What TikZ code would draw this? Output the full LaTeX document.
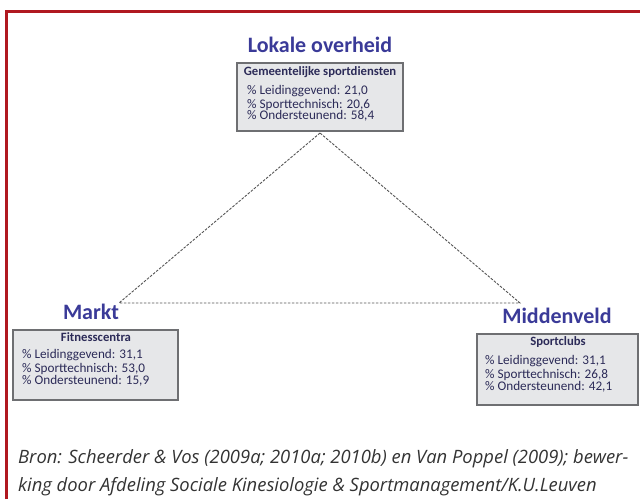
\documentclass[tikz,border=0pt]{standalone}
\usepackage{fontspec}
\setmainfont{Carlito}
\newfontfamily\capfont{Open Sans}
\definecolor{frame}{HTML}{B01820}
\definecolor{ttl}{HTML}{3A3A98}
\definecolor{txt}{HTML}{2C2B58}
\definecolor{boxfill}{HTML}{E6E7E9}
\definecolor{boxline}{HTML}{6E6F72}
\definecolor{dashc}{HTML}{555555}
\definecolor{capc}{HTML}{333333}
\tikzset{
  sector/.style={font=\fontsize{22}{24}\selectfont\bfseries, text=ttl, inner sep=0pt},
  databox/.style={draw=boxline, line width=1.3pt, fill=boxfill, inner sep=0pt},
  boxhead/.style={font=\fontsize{12.7}{13}\selectfont\bfseries, text=txt, inner sep=0pt},
  boxline/.style={font=\fontsize{13.2}{13}\selectfont, text=txt, inner sep=0pt, anchor=west},
  link/.style={draw=dashc, line width=0.9pt, dash pattern=on 2.6pt off 1.4pt},
  caption/.style={font=\capfont\itshape\fontsize{18.4}{28}\selectfont, text=capc, inner sep=0pt, anchor=west}
}
\begin{document}
\begin{tikzpicture}[x=1pt,y=-1pt]
\useasboundingbox (0,0) rectangle (640,499);
% frame
\draw[frame, line width=2.7pt] (6.3,499) -- (6.3,11.3) -- (640,11.3);
% top
\node[sector] (lokaal) at (320,45) {Lokale overheid};
\node[databox, minimum width=166pt, minimum height=68pt] (gbox) at (320,97) {};
\node[boxhead] (ghead) at (320,72) {Gemeentelijke sportdiensten};
\node[boxline] (g1) at (247,91.5) {\% Leidinggevend: 21,0};
\node[boxline] (g2) at (247,104.5) {\% Sporttechnisch: 20,6};
\node[boxline] (g3) at (247,116) {\% Ondersteunend: 58,4};
% left
\node[sector] (markt) at (91,312) {Markt};
\node[databox, minimum width=165pt, minimum height=70pt] (fbox) at (95.5,365) {};
\node[boxhead] (fhead) at (96,337) {Fitnesscentra};
\node[boxline] (f1) at (22,355) {\% Leidinggevend: 31,1};
\node[boxline] (f2) at (22,368.5) {\% Sporttechnisch: 53,0};
\node[boxline] (f3) at (22,380.5) {\% Ondersteunend: 15,9};
% right
\node[sector] (midden) at (557,316) {Middenveld};
\node[databox, minimum width=161pt, minimum height=71pt] (sbox) at (557.5,369.5) {};
\node[boxhead] (shead) at (558,342) {Sportclubs};
\node[boxline] (s1) at (485,361) {\% Leidinggevend: 31,1};
\node[boxline] (s2) at (485,374.5) {\% Sporttechnisch: 26,8};
\node[boxline] (s3) at (485,386.5) {\% Ondersteunend: 42,1};
% triangle
\coordinate (apex) at (320,133);
\coordinate (lv) at (119,303);
\coordinate (rv) at (520,303);
\draw[link] (apex) -- (lv) -- (rv) -- cycle;
% caption
\node[caption] (cap1) at (18,459) {Bron: Scheerder \& Vos (2009a; 2010a; 2010b) en Van Poppel (2009); bewer-};
\node[caption] (cap2) at (18,487) {king door Afdeling Sociale Kinesiologie \& Sportmanagement/K.U.Leuven};
\end{tikzpicture}
\end{document}
